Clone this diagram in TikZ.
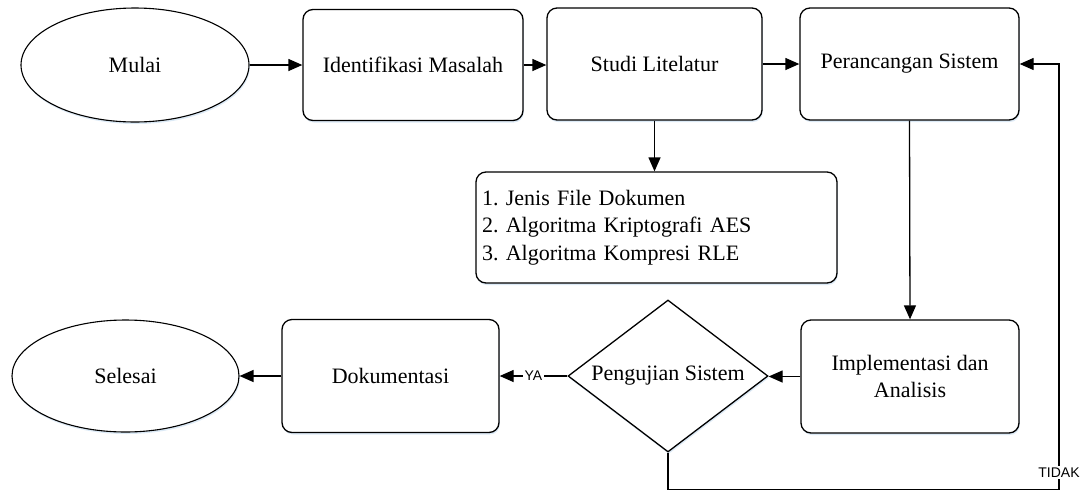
\documentclass[tikz,border=0pt]{standalone}
\usepackage{fontspec}
\setmainfont{Liberation Serif}
\newfontfamily\labelfont{Liberation Sans}
\usetikzlibrary{shapes.geometric,arrows.meta,shadows}
\begin{document}
\frenchspacing
\begin{tikzpicture}[x=1pt,y=-1pt,
  font=\fontsize{22}{27.5}\selectfont,
  line width=1.3pt,
  shade/.style={drop shadow={shadow xshift=0.8pt,shadow yshift=-2pt,fill=cyan!50!blue,opacity=0.15}},
  proc/.style={draw, rounded corners=10pt, fill=white, inner sep=0pt, align=center, shade},
  term/.style={draw, ellipse, fill=white, inner sep=0pt, line width=1.1pt, shade},
  arr/.style={-{Triangle[length=14pt,width=12pt]}},
  lbl/.style={font=\labelfont\fontsize{14}{14}\selectfont, fill=white, inner sep=1.5pt}]
\useasboundingbox (0,0) rectangle (1085,491);
\node[term, minimum width=228pt, minimum height=114pt] (mulai) at (135,65) {Mulai};
\node[proc, minimum width=220pt, minimum height=111pt] (ident) at (413,65) {Identifikasi Masalah};
\node[proc, minimum width=215pt, minimum height=112pt] (studi) at (654.5,64) {Studi Litelatur};
\node[proc, minimum width=219pt, minimum height=112pt] (rancang) at (909.5,64) {Perancangan Sistem};
\node[proc, text width=349pt, inner sep=6pt, minimum height=111pt, align=left] (list) at (656.5,227.5)
  {1. Jenis File Dokumen\\2. Algoritma Kriptografi AES\\3. Algoritma Kompresi RLE};
\node[proc, minimum width=218pt, minimum height=113pt] (impl) at (910,376.5) {Implementasi dan\\Analisis};
\node[draw, diamond, shape aspect=1.3, minimum width=200pt, minimum height=152pt, inner sep=0pt, fill=white, shade] (uji) at (668,376) {Pengujian Sistem};
\node[proc, minimum width=217pt, minimum height=113pt] (dok) at (390.5,376) {Dokumentasi};
\node[term, minimum width=227pt, minimum height=112pt] (selesai) at (125.5,376) {Selesai};
\coordinate (fb) at (1059,489.5);
\draw[arr] (mulai.east) -- (mulai.east -| ident.west);
\draw[arr] (ident.east) -- (ident.east -| studi.west);
\draw[arr] (studi.east) -- (studi.east -| rancang.west);
\draw[arr] (studi.south) -- (studi.south |- list.north);
\draw[arr] (rancang.south) -- (impl.north);
\draw[arr] (impl.west) -- (impl.west -| uji.east);
\draw[arr] (uji.west) -- node[lbl, pos=0.5] {YA} (uji.west -| dok.east);
\draw[arr] (dok.west) -- (selesai.east);
\draw[arr] (uji.south) |- (fb) -- node[lbl, pos=0.04] {TIDAK} (fb |- rancang.east) -- (rancang.east);
\end{tikzpicture}
\end{document}
